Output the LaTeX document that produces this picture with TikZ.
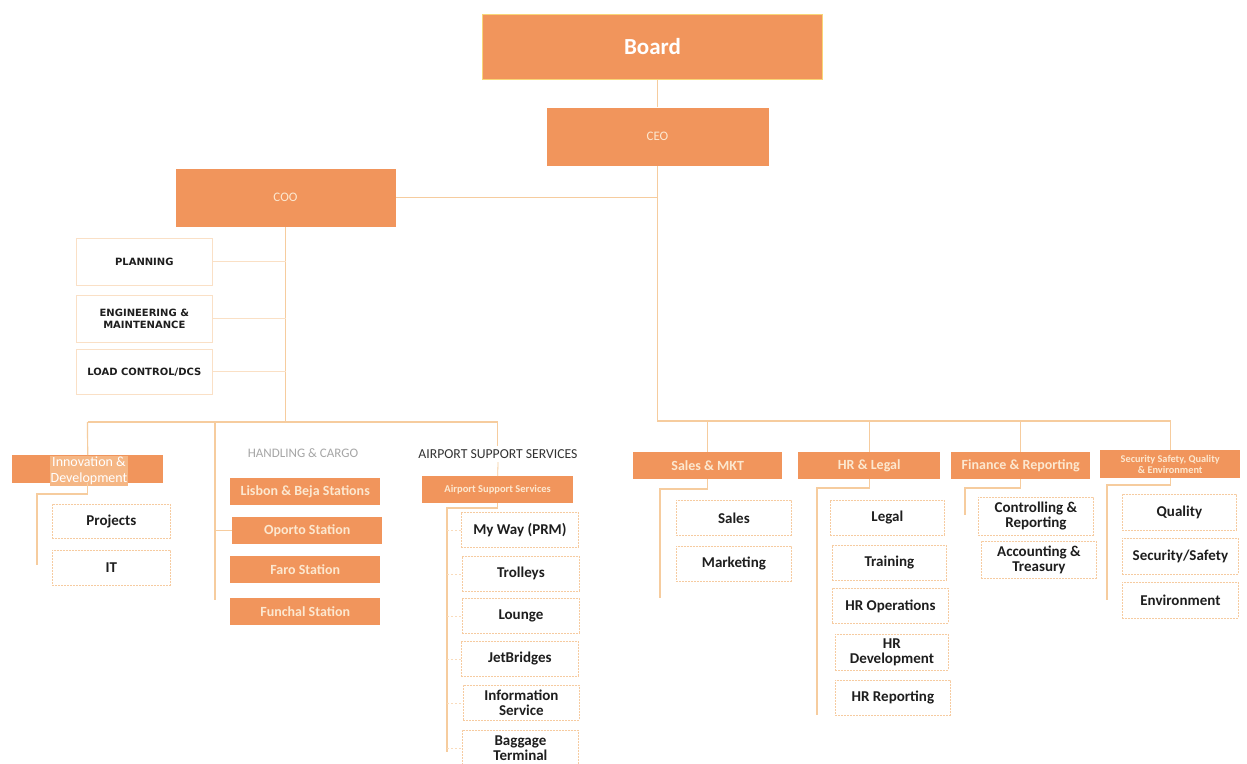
\documentclass[tikz,border=0pt]{standalone}
\usepackage{fontspec}
\setmainfont{Carlito}
\newfontfamily\capsfont{DejaVu Sans}
\definecolor{org}{RGB}{241,149,92}
\definecolor{ylw}{RGB}{248,214,120}
\definecolor{peach}{RGB}{246,203,160}
\definecolor{linec}{RGB}{246,204,158}
\definecolor{lighttxt}{RGB}{252,232,208}
\definecolor{innbg}{RGB}{245,182,132}
\definecolor{darktxt}{RGB}{30,30,30}
\newcommand\bx[7]{\node[#1, anchor=north west, minimum width=#5pt, minimum height=#6pt, inner sep=0pt] (#2) at (#3,#4) {#7};}
\begin{document}
\begin{tikzpicture}[x=1pt,y=-1pt,
  topbox/.style={fill=org, draw=ylw, line width=1pt, text=white},
  midbox/.style={fill=org, draw=none, text=lighttxt, font=\bfseries\fontsize{14}{15}\selectfont, align=center},
  subbox/.style={fill=white, draw=peach, line width=0.8pt, dash pattern=on 2pt off 1pt, text=darktxt, font=\bfseries\fontsize{15}{15}\selectfont, align=center},
  capbox/.style={fill=white, draw=peach!60, line width=0.6pt, text=darktxt, font=\capsfont\bfseries\fontsize{10}{12}\selectfont, align=center},
  conn/.style={draw=linec, line width=1.2pt},
  tick/.style={draw=linec!70, line width=0.8pt, dash pattern=on 2pt off 2pt}
]
\useasboundingbox (0,0) rectangle (1247,763);
\fill[white] (0,0) rectangle (1247,763);

% top level
\bx{topbox, font=\bfseries\fontsize{23}{25}\selectfont}{board}{482}{14}{340}{65}{Board}
\bx{topbox, draw=none, text=lighttxt, font=\fontsize{13}{14}\selectfont}{ceo}{546}{107}{222}{58}{CEO}
\bx{topbox, draw=none, text=lighttxt, font=\fontsize{13}{14}\selectfont}{coo}{175}{168}{220}{58}{COO}

% COO children
\bx{capbox}{planning}{76}{238}{136}{47}{PLANNING}
\bx{capbox}{engin}{76}{295}{136}{47}{ENGINEERING \&\\MAINTENANCE}
\bx{capbox}{loadc}{76}{349}{136}{45}{LOAD CONTROL/DCS}

% left second level
\bx{midbox}{innov}{12}{455}{151}{28}{}
\node[fill=innbg, text=white, font=\fontsize{14}{15.5}\selectfont, align=center, inner sep=1pt] (innovlbl) at (89,471) {Innovation \&\\Development};
\bx{subbox}{projects}{52}{504}{118}{34}{Projects}
\bx{subbox}{it}{52}{550}{118}{35}{IT}

\node[text=black!35, font=\fontsize{13}{14}\selectfont] (hclbl) at (303,453) {HANDLING \& CARGO};
\bx{midbox}{lisbon}{230}{478}{150}{27}{Lisbon \& Beja Stations}
\bx{midbox}{oporto}{232}{517}{150}{27}{Oporto Station}
\bx{midbox}{faro}{230}{556}{150}{27}{Faro Station}
\bx{midbox}{funchal}{230}{598}{150}{27}{Funchal Station}

\node[text=black!80, font=\fontsize{13.7}{14}\selectfont] (asslbl) at (498,454) {AIRPORT SUPPORT SERVICES};
\bx{midbox, font=\bfseries\fontsize{10.5}{12}\selectfont}{ass}{422}{476}{151}{27}{Airport Support Services}
\bx{subbox}{myway}{461}{512}{117}{35}{My Way (PRM)}
\bx{subbox}{trolleys}{462}{556}{117}{35}{Trolleys}
\bx{subbox}{lounge}{462}{598}{117}{35}{Lounge}
\bx{subbox}{jetb}{461}{641}{117}{35}{JetBridges}
\bx{subbox}{info}{463}{685}{116}{35}{Information\\Service}
\bx{subbox}{baggage}{462}{730}{116}{35}{Baggage\\Terminal}

% right second level
\bx{midbox}{salesmkt}{633}{452}{149}{27}{Sales \& MKT}
\bx{midbox}{hrlegal}{798}{452}{142}{27}{HR \& Legal}
\bx{midbox}{finance}{951}{452}{139}{27}{Finance \& Reporting}
\bx{midbox, font=\bfseries\fontsize{10.3}{11}\selectfont}{security}{1100}{450}{140}{28}{Security Safety, Quality\\\& Environment}

\bx{subbox}{sales}{676}{500}{115}{35}{Sales}
\bx{subbox}{marketing}{676}{546}{115}{35}{Marketing}
\bx{subbox}{legal}{830}{500}{114}{35}{Legal}
\bx{subbox}{training}{832}{545}{114}{35}{Training}
\bx{subbox}{hrops}{832}{588}{116}{35}{HR Operations}
\bx{subbox}{hrdev}{835}{634}{113}{36}{HR\\Development}
\bx{subbox}{hrrep}{835}{680}{115}{35}{HR Reporting}
\bx{subbox}{controlling}{978}{497}{115}{38}{Controlling \&\\Reporting}
\bx{subbox}{accounting}{981}{541}{115}{37}{Accounting \&\\Treasury}
\bx{subbox}{quality}{1122}{494}{114}{36}{Quality}
\bx{subbox}{secsafety}{1122}{538}{116}{36}{Security/Safety}
\bx{subbox}{environment}{1122}{582}{116}{36}{Environment}

% coordinates for free ends
\coordinate (rj) at (658,421);
\coordinate (rjend) at (1171,421);
\coordinate (lhL) at (87.5,422);
\coordinate (lhR) at (497.5,422);
\coordinate (hc) at (215,422);
\coordinate (hcend) at (215,600);
\coordinate (at) at (447,508);
\coordinate (atend) at (447,752);
\coordinate (it) at (37,494);
\coordinate (itend) at (37,565);
\coordinate (st) at (660,489);
\coordinate (stend) at (660,598);
\coordinate (ht) at (817,488);
\coordinate (htend) at (817,715);
\coordinate (ft) at (965,488);
\coordinate (ftend) at (965,515);
\coordinate (sct) at (1107,485);
\coordinate (sctend) at (1107,600);

% connectors
\draw[conn] (ceo.north) -- (ceo.north |- board.south);
\draw[conn] (ceo.south) -- (ceo.south |- rj) -- (rjend);
\draw[conn] (coo.east) -- (coo.east -| ceo.south);
\draw[conn] (coo.south) -- (coo.south |- lhL);
\foreach \n in {planning,engin,loadc} \draw[conn, draw=linec!60] (\n.east) -- (\n.east -| coo.south);
\draw[conn] (lhL) -- (lhR);
\draw[conn] (lhL) -- (innov.north);
\draw[conn] (hc) -- (hcend);
\draw[conn] (hc |- oporto.west) -- (oporto.west);
\draw[conn] (lhR) -- (lhR |- asslbl.north);
\draw[conn, line width=0.8pt] (asslbl.south) -- (ass.north);
\draw[conn] (ass.south) -- (ass.south |- at) -- (at) -- (atend);
\foreach \n in {myway,trolleys,lounge,jetb,info,baggage} \draw[tick] (at |- \n.west) -- (\n.west);
\draw[conn] (innov.south) -- (innov.south |- it) -- (it) -- (itend);
\foreach \n in {salesmkt,hrlegal,finance,security} \draw[conn] (\n.north |- rj) -- (\n.north);
\draw[conn] (salesmkt.south) -- (salesmkt.south |- st) -- (st) -- (stend);
\draw[conn] (hrlegal.south) -- (hrlegal.south |- ht) -- (ht) -- (htend);
\draw[conn] (finance.south) -- (finance.south |- ft) -- (ft) -- (ftend);
\draw[conn] (security.south) -- (security.south |- sct) -- (sct) -- (sctend);
\end{tikzpicture}
\end{document}
